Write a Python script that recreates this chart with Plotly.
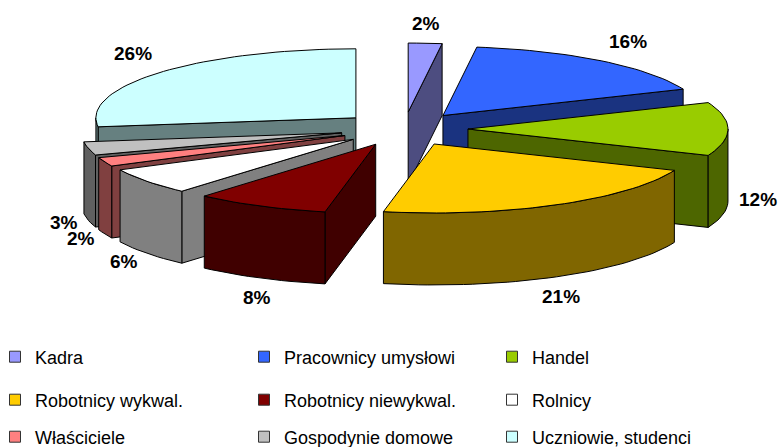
import numpy as np
import plotly.graph_objects as go

# ---- data ----
categories = ["Kadra", "Pracownicy umysłowi", "Handel",
              "Robotnicy wykwal.", "Robotnicy niewykwal.", "Rolnicy",
              "Właściciele", "Gospodynie domowe", "Uczniowie, studenci"]
percent = [2, 16, 12, 21, 8, 6, 2, 3, 26]
top_colors = ["#9999FF", "#3366FF", "#99CC00", "#FFCC00", "#800000",
              "#FFFFFF", "#FF8080", "#C0C0C0", "#CCFFFF"]
side_colors = ["#4D4D80", "#1A3380", "#4D6600", "#806600", "#400000",
               "#808080", "#804040", "#606060", "#668080"]

# ---- geometry of the tilted, exploded pie (screen-like units) ----
RX, RY, DEPTH, PULL = 260.0, 69.0, 72.0, 0.246
LABEL_KX, LABEL_KY = 1.28, 1.28
LABEL_GAP = 5.0
FONT = "Arial, Liberation Sans, sans-serif"

total = float(sum(percent))
bounds = np.concatenate([[0.0], np.cumsum(percent)]) / total * 2 * np.pi


def point(phi, theta, r, z):
    x = PULL * RX * np.sin(phi) + r * RX * np.sin(theta)
    y = PULL * RY * np.cos(phi) + r * RY * np.cos(theta) - z
    return x, y


def arc(phi, a, b, z):
    n = max(3, int(abs(b - a) / (np.pi / 90)) + 2)
    th = np.linspace(a, b, n)
    return point(phi, th, 1.0, z)


fig = go.Figure()


def poly(xs, ys, color):
    fig.add_trace(go.Scatter(
        x=list(xs) + [xs[0]], y=list(ys) + [ys[0]], mode="lines",
        fill="toself", fillcolor=color,
        line=dict(color="#000000", width=1),
        hoverinfo="skip", showlegend=False))


mids = [(bounds[i] + bounds[i + 1]) / 2 for i in range(len(percent))]
order = sorted(range(len(percent)), key=lambda i: -np.cos(mids[i]))

for i in order:
    a, b, phi = bounds[i], bounds[i + 1], mids[i]
    tx, ty = point(phi, 0.0, 0.0, 0.0)
    # radial faces facing the viewer
    for th, vis in ((a, np.sin(a) < -1e-6), (b, np.sin(b) > 1e-6)):
        if vis:
            rx0, ry0 = point(phi, th, 1.0, 0.0)
            rx1, ry1 = point(phi, th, 1.0, DEPTH)
            poly([tx, rx0, rx1, tx], [ty, ry0, ry1, ty - DEPTH], side_colors[i])
    # outer curved wall (front half only)
    lo, hi = max(a, np.pi / 2), min(b, 3 * np.pi / 2)
    if hi > lo:
        xt, yt = arc(phi, lo, hi, 0.0)
        xb, yb = arc(phi, hi, lo, DEPTH)
        poly(np.concatenate([xt, xb]), np.concatenate([yt, yb]), side_colors[i])
    # top face
    xa, ya = arc(phi, a, b, 0.0)
    poly(np.concatenate([[tx], xa]), np.concatenate([[ty], ya]), top_colors[i])

# percentage labels
annotations = []
for i, phi in enumerate(mids):
    s, c = np.sin(phi), np.cos(phi)
    front = c <= 0.01
    side = abs(s) > 0.5
    if not front:
        drop, yanchor = -LABEL_GAP, "bottom"
    elif side:
        drop, yanchor = DEPTH - 2 + 14 * abs(c), "middle"
    else:
        drop, yanchor = DEPTH + LABEL_GAP, "top"
    annotations.append(dict(
        x=LABEL_KX * RX * s, y=LABEL_KY * RY * c - drop,
        text=f"{percent[i]}%", showarrow=False,
        xanchor="left" if s > 0.5 else ("right" if s < -0.5 else "center"),
        yanchor=yanchor,
        font=dict(family=FONT, size=19, color="#000000", weight="bold")))

# legend: one single-entry legend per cell of a 3 x 3 grid
W, H = 779, 447
CX, CY = 404.0, 129.0
col_x = [-5, 244, 492]
row_y = [357, 400, 437]
legend_ids = ["legend"] + [f"legend{k}" for k in range(2, 10)]
layout_legends = {}
for i, name in enumerate(categories):
    lid = legend_ids[i]
    fig.add_trace(go.Scatter(
        x=[None], y=[None], mode="markers", name=name,
        marker=dict(symbol="square", size=11, color=top_colors[i],
                    line=dict(color="#333333", width=1)),
        legend=lid, showlegend=True, hoverinfo="skip"))
    layout_legends[lid] = dict(
        orientation="h", xanchor="left", yanchor="middle",
        x=col_x[i % 3] / W, y=1 - row_y[i // 3] / H,
        font=dict(family=FONT, size=18, color="#000000"),
        bgcolor="rgba(0,0,0,0)", itemclick=False, itemdoubleclick=False)

fig.update_layout(
    width=W, height=H,
    margin=dict(l=0, r=0, t=0, b=0, autoexpand=False),
    paper_bgcolor="#FFFFFF", plot_bgcolor="#FFFFFF",
    xaxis=dict(range=[-CX, W - CX], visible=False, fixedrange=True),
    yaxis=dict(range=[CY - H, CY], visible=False, fixedrange=True),
    annotations=annotations,
    showlegend=True,
    **layout_legends)

fig.write_html("out.html",
               config={"displayModeBar": False},
               post_script="document.body.style.margin='0';"
                           "document.body.style.overflow='hidden';")
